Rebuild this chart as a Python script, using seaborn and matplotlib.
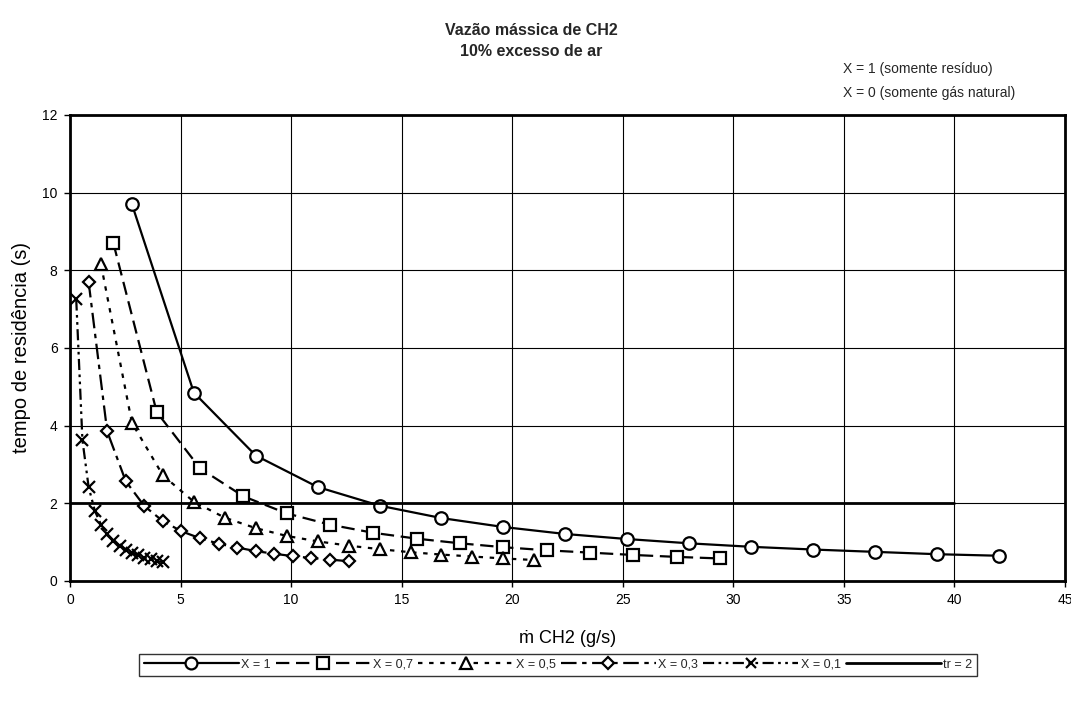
import matplotlib
matplotlib.use("Agg")
import matplotlib.pyplot as plt
import seaborn as sns
import pandas as pd

# Mass flow of CH2 (g/s) and residence time (s) for each fraction X
m_x10 = [2.8, 5.6, 8.4, 11.2, 14.0, 16.8, 19.6, 22.4, 25.2, 28.0, 30.8, 33.6, 36.4, 39.2, 42.0]
t_x10 = [9.70, 4.85, 3.23, 2.42, 1.94, 1.62, 1.39, 1.21, 1.08, 0.97, 0.88, 0.81, 0.75, 0.69, 0.65]

m_x07 = [1.96, 3.92, 5.88, 7.84, 9.80, 11.76, 13.72, 15.68, 17.64, 19.60, 21.56, 23.52, 25.48, 27.44, 29.40]
t_x07 = [8.70, 4.35, 2.90, 2.18, 1.74, 1.45, 1.24, 1.09, 0.97, 0.87, 0.79, 0.73, 0.67, 0.62, 0.58]

m_x05 = [1.4, 2.8, 4.2, 5.6, 7.0, 8.4, 9.8, 11.2, 12.6, 14.0, 15.4, 16.8, 18.2, 19.6, 21.0]
t_x05 = [8.15, 4.07, 2.72, 2.04, 1.63, 1.36, 1.16, 1.02, 0.91, 0.82, 0.74, 0.68, 0.63, 0.58, 0.54]

m_x03 = [0.84, 1.68, 2.52, 3.36, 4.20, 5.04, 5.88, 6.72, 7.56, 8.40, 9.24, 10.08, 10.92, 11.76, 12.60]
t_x03 = [7.70, 3.85, 2.57, 1.93, 1.54, 1.28, 1.10, 0.96, 0.86, 0.77, 0.70, 0.64, 0.59, 0.55, 0.51]

m_x01 = [0.28, 0.56, 0.84, 1.12, 1.40, 1.68, 1.96, 2.24, 2.52, 2.80, 3.08, 3.36, 3.64, 3.92, 4.20]
t_x01 = [7.25, 3.63, 2.42, 1.81, 1.45, 1.21, 1.04, 0.91, 0.81, 0.73, 0.66, 0.60, 0.56, 0.52, 0.48]

m_tr = [0, 40]
t_tr = [2, 2]

series_labels = ["X = 1", "X = 0,7", "X = 0,5", "X = 0,3", "X = 0,1", "tr = 2"]

sns.set_theme(style="white")
plt.rcParams["font.family"] = ["Liberation Sans", "DejaVu Sans"]

fig = plt.figure(figsize=(10.71, 7.08), dpi=100)
ax = fig.add_axes([0.0654, 0.1794, 0.929, 0.6582])

styles = [
    dict(marker="o", markersize=9, dashes=None),
    dict(marker="s", markersize=8.5, dashes=(6, 3)),
    dict(marker="^", markersize=8.5, dashes=(2, 3)),
    dict(marker="D", markersize=6, dashes=(7, 2.5, 2, 2.5)),
    dict(marker="x", markersize=8, dashes=(5, 2, 1.2, 2, 1.2, 2)),
]
data = [(m_x10, t_x10), (m_x07, t_x07), (m_x05, t_x05), (m_x03, t_x03), (m_x01, t_x01)]

for (mx, ty), st, lab in zip(data, styles, series_labels[:5]):
    df = pd.DataFrame({"m": mx, "t": ty})
    kw = dict(color="black", linewidth=1.6, marker=st["marker"], markersize=st["markersize"],
              markerfacecolor="white", markeredgecolor="black", markeredgewidth=1.6)
    sns.lineplot(data=df, x="m", y="t", ax=ax, label=lab, **kw)
    l = ax.get_lines()[-1]
    if st["dashes"] is not None:
        l.set_dashes(st["dashes"])

df_tr = pd.DataFrame({"m": m_tr, "t": t_tr})
sns.lineplot(data=df_tr, x="m", y="t", ax=ax, label=series_labels[5], color="black", linewidth=2.0)

ax.set_xlim(0, 45)
ax.set_ylim(0, 12)
ax.set_xticks(range(0, 46, 5))
ax.set_yticks(range(0, 13, 2))
ax.grid(True, color="black", linewidth=0.8)
for s in ax.spines.values():
    s.set_color("black")
    s.set_linewidth(2.0)
ax.tick_params(axis="both", direction="out", length=4, width=1, color="black",
               labelsize=10, labelcolor="black", bottom=True, left=True, pad=5)

ax.set_xlabel("ṁ CH2 (g/s)", fontsize=13, color="black", labelpad=16)
ax.set_ylabel("tempo de residência (s)", fontsize=14.5, color="black", labelpad=8)

fig.text(0.496, 0.942, "Vazão mássica de CH2\n10% excesso de ar", ha="center", va="center",
         fontsize=11.5, fontweight="bold", linespacing=1.55)
fig.text(0.787, 0.903, "X = 1 (somente resíduo)", ha="left", va="center", fontsize=10)
fig.text(0.787, 0.869, "X = 0 (somente gás natural)", ha="left", va="center", fontsize=10)

leg = ax.legend(loc="center", bbox_to_anchor=(0.521, 0.061), bbox_transform=fig.transFigure,
                ncol=6, frameon=True, fancybox=False, edgecolor="black", fontsize=9,
                handlelength=7.6, handletextpad=0.2, columnspacing=0.4, borderpad=0.4,
                markerscale=0.95)
leg.get_frame().set_linewidth(1.0)

fig.savefig("out.png", dpi=100)
